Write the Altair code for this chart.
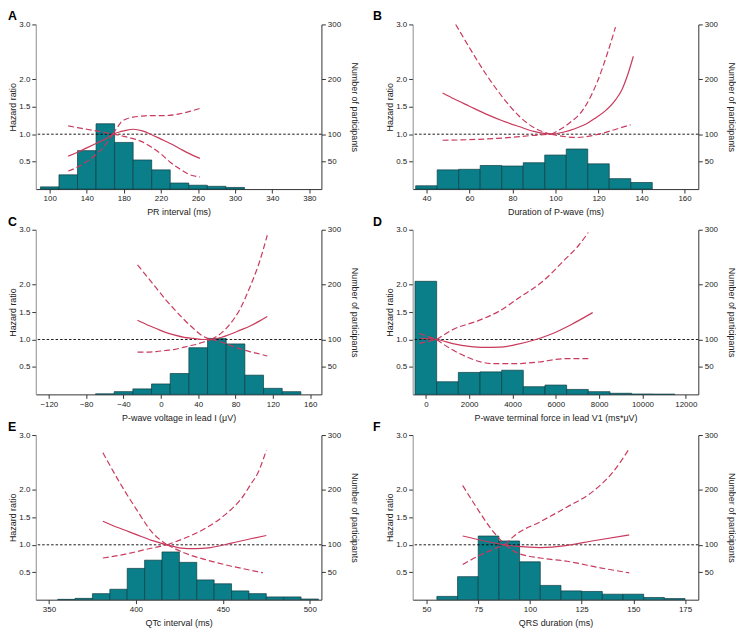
import altair as alt
import pandas as pd

FONT = "Liberation Sans"
RED = "#c93a5d"
TEAL = "#0a7e89"
BAR_EDGE = "#0e3e44"

# ---------------- Panel A: PR interval ----------------
A_edges = [90, 110, 130, 150, 170, 190, 210, 230, 250, 270, 290, 310]
A_counts = [4, 26, 70, 119, 85, 53, 35, 11, 7, 5, 3]
A_est_x = [120, 130, 140, 150, 160, 168, 175, 180, 190, 200, 210, 220, 230, 240, 250, 262]
A_est_y = [0.60, 0.67, 0.75, 0.83, 0.91, 1.00, 1.04, 1.06, 1.09, 1.06, 0.99, 0.91, 0.83, 0.74, 0.65, 0.56]
A_lo_x = [120, 130, 140, 150, 160, 168, 175, 180, 190, 200, 210, 220, 230, 240, 250, 262]
A_lo_y = [0.33, 0.40, 0.50, 0.63, 0.80, 1.00, 0.98, 0.96, 0.92, 0.86, 0.76, 0.64, 0.49, 0.37, 0.27, 0.22]
A_hi_x = [120, 130, 140, 150, 160, 168, 172, 177, 183, 190, 200, 210, 225, 240, 252, 264]
A_hi_y = [1.15, 1.12, 1.09, 1.06, 1.03, 1.00, 1.10, 1.22, 1.28, 1.31, 1.33, 1.34, 1.34, 1.37, 1.42, 1.48]
A_knot = 168

# ---------------- Panel B: Duration of P-wave ----------------
B_edges = [35, 45, 55, 65, 75, 85, 95, 105, 115, 125, 135, 145]
B_counts = [6, 35, 36, 43, 42, 48, 62, 73, 46, 19, 12]
B_est_x = [47.5, 53, 60, 67, 75, 83, 90, 98, 104, 109, 114, 118, 123, 128, 131, 133.3, 136.2]
B_est_y = [1.75, 1.64, 1.51, 1.38, 1.25, 1.14, 1.05, 1.00, 1.04, 1.10, 1.18, 1.28, 1.42, 1.63, 1.82, 2.05, 2.42]
B_lo_x = [47.5, 59.8, 75.1, 90.4, 98, 102, 105.7, 110, 113.4, 121.1, 128.8, 134.9]
B_lo_y = [0.89, 0.90, 0.93, 0.98, 1.00, 0.97, 0.95, 0.94, 0.95, 1.01, 1.10, 1.17]
B_hi_x = [53.6, 59.8, 67.4, 75.1, 82.8, 90.4, 98, 105.7, 113.4, 119.5, 124.1, 127.9]
B_hi_y = [3.00, 2.59, 2.11, 1.69, 1.34, 1.11, 1.00, 1.18, 1.48, 1.96, 2.47, 2.95]
B_knot = 98

# ---------------- Panel C: P-wave voltage in lead I ----------------
C_edges = [-70, -50, -30, -10, 10, 30, 50, 70, 90, 110, 130, 150]
C_counts = [1, 5, 10, 19, 38, 85, 102, 92, 35, 11, 5]
C_x = [-25, -15, -5, 5, 15, 25, 35, 45, 54, 65, 75, 85, 95, 105, 114]
C_est_y = [1.35, 1.27, 1.20, 1.13, 1.08, 1.04, 1.02, 1.00, 1.00, 1.04, 1.10, 1.17, 1.24, 1.33, 1.42]
C_lo_y = [0.77, 0.77, 0.78, 0.80, 0.82, 0.86, 0.90, 0.95, 1.00, 0.95, 0.89, 0.83, 0.78, 0.74, 0.70]
C_hi_y = [2.36, 2.15, 1.94, 1.73, 1.54, 1.36, 1.20, 1.06, 1.00, 1.12, 1.30, 1.56, 1.94, 2.38, 2.90]
C_knot = 54

# ---------------- Panel D: P-wave terminal force in lead V1 ----------------
D_edges = [-500, 500, 1500, 2500, 3500, 4500, 5500, 6500, 7500, 8500, 9500, 10500, 11500]
D_counts = [206, 23, 40, 41, 44, 14, 17, 9, 5, 2, 0.6, 0.3]
D_est_x = [-250, 500, 1300, 2000, 2700, 3400, 4200, 5000, 5800, 6700, 7700]
D_est_y = [1.02, 1.00, 0.92, 0.875, 0.855, 0.86, 0.91, 0.99, 1.10, 1.27, 1.49]
D_lo_x = [-300, 500, 1150, 1900, 3100, 4150, 5200, 6400, 7600]
D_lo_y = [0.93, 1.00, 0.83, 0.68, 0.56, 0.56, 0.59, 0.65, 0.65]
D_hi_x = [-300, 500, 1300, 2400, 3400, 4300, 5400, 6400, 7000, 7500]
D_hi_y = [1.11, 1.00, 1.19, 1.34, 1.52, 1.76, 2.06, 2.45, 2.69, 2.95]
D_knot = 500

# ---------------- Panel E: QTc interval ----------------
E_edges = [355, 365, 375, 385, 395, 405, 415, 425, 435, 445, 455, 465, 475, 485, 495, 505]
E_counts = [0.6, 2.4, 11, 19, 57, 72, 87, 68, 36, 29, 16, 11, 5, 5, 1.2]
E_est_x = [381, 390, 400, 409, 418, 426, 434, 443, 455, 466, 475]
E_est_y = [1.43, 1.31, 1.19, 1.08, 1.00, 0.94, 0.93, 0.95, 1.03, 1.11, 1.17]
E_lo_x = [381, 394, 405, 418, 428, 440, 455, 464, 473]
E_lo_y = [0.76, 0.83, 0.91, 1.00, 0.85, 0.73, 0.61, 0.55, 0.49]
E_hi_x = [381, 390, 400, 409, 418, 428, 440, 451, 462, 466, 470, 475]
E_hi_y = [2.68, 2.17, 1.66, 1.24, 1.00, 1.12, 1.30, 1.54, 1.90, 2.10, 2.30, 2.72]
E_knot = 418

# ---------------- Panel F: QRS duration ----------------
F_edges = [55, 65, 75, 85, 95, 105, 115, 125, 135, 145, 155, 165, 175]
F_counts = [6, 42, 116, 107, 69, 26, 16, 15, 10, 10, 4, 2]
F_est_x = [67.5, 78, 88, 94, 105, 118, 130, 148]
F_est_y = [1.16, 1.07, 1.00, 0.97, 0.95, 0.99, 1.07, 1.18]
F_lo_x = [67.5, 76.3, 88, 94, 105, 118, 134, 148]
F_lo_y = [0.64, 0.82, 1.00, 0.85, 0.76, 0.70, 0.58, 0.49]
F_hi_x = [67.5, 74.7, 81, 88, 92, 105, 118, 130, 140, 148]
F_hi_y = [2.08, 1.65, 1.30, 1.00, 1.15, 1.42, 1.69, 1.96, 2.32, 2.75]
F_knot = 88

W, H = 288, 166


def split_ci(xs, ys, knot, name):
    rows = []
    for x, y in zip(xs, ys):
        if x <= knot:
            rows.append({"x": x, "hr": y, "seg": name + "_L"})
        if x >= knot:
            rows.append({"x": x, "hr": y, "seg": name + "_R"})
    return rows


def panel(letter, lx, xtitle, dom, ticks, edges, counts, est_x, est_y,
          lo_x, lo_y, hi_x, hi_y, knot, xformat=None):
    bars = pd.DataFrame({"x0": edges[:-1], "x1": edges[1:], "n": counts})
    est = pd.DataFrame({"x": est_x, "hr": est_y})
    ci = pd.DataFrame(split_ci(lo_x, lo_y, knot, "lo") + split_ci(hi_x, hi_y, knot, "hi"))
    one = pd.DataFrame({"hr": [1.0]})
    lab = pd.DataFrame({"t": [letter]})

    xscale = alt.Scale(domain=dom, nice=False, zero=False)
    axkw = dict(values=ticks, title=xtitle, titlePadding=5, domainColor="#333",
                tickColor="#333", labelPadding=2)
    if xformat:
        axkw["format"] = xformat
    xaxis = alt.Axis(**axkw)

    hrscale = alt.Scale(domain=[0, 3], nice=False, zero=True)
    hraxis = alt.Axis(orient="left", values=[0.5, 1, 1.5, 2, 3], format=".1f",
                      title="Hazard ratio", titlePadding=1, domainColor="#8c8c8c",
                      tickColor="#333", labelPadding=2)

    nscale = alt.Scale(domain=[0, 300], nice=False, zero=True)
    naxis = alt.Axis(orient="right", values=[50, 100, 200, 300],
                     title="Number of participants", titlePadding=9,
                     domainColor="#333", tickColor="#333", labelPadding=2)

    hist = alt.Chart(bars).mark_rect(color=TEAL, stroke=BAR_EDGE, strokeWidth=0.7).encode(
        x=alt.X("x0:Q", scale=xscale, axis=xaxis, title=xtitle),
        x2="x1:Q",
        y=alt.Y("n:Q", scale=nscale, axis=naxis, title="Number of participants"),
        y2=alt.datum(0),
    )

    rule = alt.Chart(one).mark_rule(color="black", strokeDash=[2.5, 2], strokeWidth=0.9).encode(
        y=alt.Y("hr:Q", scale=hrscale, axis=hraxis, title="Hazard ratio"))
    solid = alt.Chart(est).mark_line(color=RED, strokeWidth=1.2, interpolate="monotone").encode(
        x=alt.X("x:Q", scale=xscale, axis=xaxis, title=xtitle),
        y=alt.Y("hr:Q", scale=hrscale, axis=hraxis, title="Hazard ratio"))
    dashed = alt.Chart(ci).mark_line(color=RED, strokeWidth=1.2, strokeDash=[6, 3],
                                     interpolate="monotone").encode(
        x=alt.X("x:Q", scale=xscale, axis=xaxis, title=xtitle),
        y=alt.Y("hr:Q", scale=hrscale, axis=hraxis, title="Hazard ratio"),
        detail="seg:N")
    curves = alt.layer(rule, solid, dashed)

    letter_mark = alt.Chart(lab).mark_text(align="left", baseline="alphabetic", fontSize=12.5,
                                           fontWeight="bold", font=FONT, color="black").encode(
        x=alt.value(lx), y=alt.value(-4), text="t:N")

    return alt.layer(hist, curves, letter_mark).resolve_scale(y="independent").properties(
        width=W, height=H)


pA = panel("A", -28, "PR interval (ms)", [85, 393], [100, 140, 180, 220, 260, 300, 340, 380],
           A_edges, A_counts, A_est_x, A_est_y, A_lo_x, A_lo_y, A_hi_x, A_hi_y, A_knot)
pB = panel("B", -40, "Duration of P-wave (ms)", [33.6, 166.4], [40, 60, 80, 100, 120, 140, 160],
           B_edges, B_counts, B_est_x, B_est_y, B_lo_x, B_lo_y, B_hi_x, B_hi_y, B_knot)
pC = panel("C", -28, "P-wave voltage in lead I (μV)", [-134, 172],
           [-120, -80, -40, 0, 40, 80, 120, 160],
           C_edges, C_counts, C_x, C_est_y, C_x, C_lo_y, C_x, C_hi_y, C_knot)
pD = panel("D", -40, "P-wave terminal force in lead V1 (ms*μV)", [-608, 12578],
           [0, 2000, 4000, 6000, 8000, 10000, 12000],
           D_edges, D_counts, D_est_x, D_est_y, D_lo_x, D_lo_y, D_hi_x, D_hi_y, D_knot, xformat="d")
pE = panel("E", -28, "QTc interval (ms)", [342.4, 506.7], [350, 400, 450, 500],
           E_edges, E_counts, E_est_x, E_est_y, E_lo_x, E_lo_y, E_hi_x, E_hi_y, E_knot)
pF = panel("F", -40, "QRS duration (ms)", [43.3, 181.4], [50, 75, 100, 125, 150, 175],
           F_edges, F_counts, F_est_x, F_est_y, F_lo_x, F_lo_y, F_hi_x, F_hi_y, F_knot)

chart = alt.concat(pA, pB, pC, pD, pE, pF, columns=2,
                   spacing={"row": 41, "column": 92}, bounds="flush").properties(
    padding=0
).configure_view(stroke=None).configure_axis(
    labelFont=FONT, titleFont=FONT, labelFontSize=8, titleFontSize=9,
    titleFontWeight="normal", labelColor="#222", titleColor="#222",
    grid=False, tickSize=4, domainWidth=1, tickWidth=1
)

chart.save("out.html", embed_options={"renderer": "svg", "actions": False})
